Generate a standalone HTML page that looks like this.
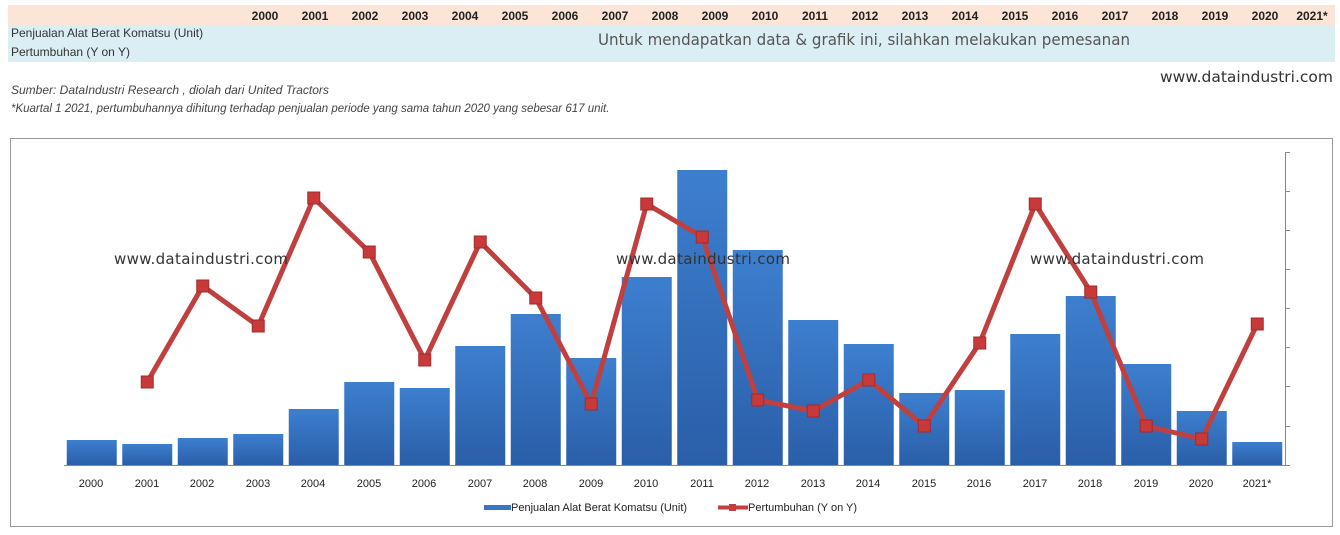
<!DOCTYPE html>
<html><head><meta charset="utf-8"><style>
body{margin:0;width:1340px;height:535px;background:#fff;overflow:hidden;font-family:"Liberation Sans",sans-serif;position:relative}
.a{position:absolute;white-space:nowrap}
</style></head><body>
<div class="a" style="left:8px;top:5px;width:1327px;height:20px;background:#fce4d6"></div>
<div class="a" style="left:8px;top:25px;width:1327px;height:37px;background:#daeef3"></div>
<div class="a" style="left:11px;top:26px;font-size:12px;color:#333">Penjualan Alat Berat Komatsu (Unit)</div>
<div class="a" style="left:11px;top:45px;font-size:12px;color:#333">Pertumbuhan (Y on Y)</div>
<div class="a" style="left:11px;top:83px;font-size:12px;font-style:italic;color:#444">Sumber: DataIndustri Research , diolah dari United Tractors</div>
<div class="a" style="left:11px;top:103px;font-size:11.5px;font-style:italic;color:#444">*Kuartal 1 2021, pertumbuhannya dihitung terhadap penjualan periode yang sama tahun 2020 yang sebesar 617 unit.</div>
<svg class="a" style="left:0;top:0" width="1340" height="535">
<text x="598" y="45" font-size="16" fill="#555" font-family="DejaVu Sans" textLength="532" lengthAdjust="spacingAndGlyphs">Untuk mendapatkan data &amp; grafik ini, silahkan melakukan pemesanan</text>
<text x="1160" y="82" font-size="15" fill="#333" font-family="DejaVu Sans" textLength="173" lengthAdjust="spacingAndGlyphs">www.dataindustri.com</text>
<g font-size="12" font-weight="bold" fill="#222" text-anchor="middle" font-family="Liberation Sans">
<text x="265" y="20">2000</text><text x="315" y="20">2001</text><text x="365" y="20">2002</text><text x="415" y="20">2003</text><text x="465" y="20">2004</text><text x="515" y="20">2005</text><text x="565" y="20">2006</text><text x="615" y="20">2007</text><text x="665" y="20">2008</text><text x="715" y="20">2009</text><text x="765" y="20">2010</text><text x="815" y="20">2011</text><text x="865" y="20">2012</text><text x="915" y="20">2013</text><text x="965" y="20">2014</text><text x="1015" y="20">2015</text><text x="1065" y="20">2016</text><text x="1115" y="20">2017</text><text x="1165" y="20">2018</text><text x="1215" y="20">2019</text><text x="1265" y="20">2020</text><text x="1312" y="20">2021*</text>
</g>
<rect x="10.5" y="138.5" width="1322" height="388" fill="none" stroke="#999"/>
<defs><linearGradient id="bg" x1="0" x2="0" y1="0" y2="1"><stop offset="0" stop-color="#3d7fcf"/><stop offset="1" stop-color="#2a5ea8"/></linearGradient></defs>
<g id="bars"></g>
<line x1="64" y1="465.5" x2="1286" y2="465.5" stroke="#888"/>
<line x1="1285.5" y1="152" x2="1285.5" y2="466" stroke="#888"/>
<g stroke="#888"><line x1="1285" x2="1290" y1="152.5" y2="152.5"/><line x1="1285" x2="1290" y1="191.5" y2="191.5"/><line x1="1285" x2="1290" y1="230.5" y2="230.5"/><line x1="1285" x2="1290" y1="269.5" y2="269.5"/><line x1="1285" x2="1290" y1="308.5" y2="308.5"/><line x1="1285" x2="1290" y1="347.5" y2="347.5"/><line x1="1285" x2="1290" y1="386.5" y2="386.5"/><line x1="1285" x2="1290" y1="426.5" y2="426.5"/><line x1="1285" x2="1290" y1="465.5" y2="465.5"/></g>
<g id="line"></g>
<g font-size="15" fill="#333" font-family="DejaVu Sans"><text x="114" y="264" textLength="174">www.dataindustri.com</text><text x="616" y="264" textLength="174">www.dataindustri.com</text><text x="1030" y="264" textLength="174">www.dataindustri.com</text></g>
<g font-size="11" fill="#222" text-anchor="middle" font-family="Liberation Sans">
<text x="91" y="487">2000</text><text x="147" y="487">2001</text><text x="202" y="487">2002</text><text x="258" y="487">2003</text><text x="313" y="487">2004</text><text x="369" y="487">2005</text><text x="424" y="487">2006</text><text x="480" y="487">2007</text><text x="535" y="487">2008</text><text x="591" y="487">2009</text><text x="646" y="487">2010</text><text x="702" y="487">2011</text><text x="757" y="487">2012</text><text x="813" y="487">2013</text><text x="868" y="487">2014</text><text x="924" y="487">2015</text><text x="979" y="487">2016</text><text x="1035" y="487">2017</text><text x="1090" y="487">2018</text><text x="1146" y="487">2019</text><text x="1201" y="487">2020</text><text x="1257" y="487">2021*</text>
</g>
<rect x="484" y="505" width="27" height="5" fill="#3a75c4"/>
<text x="511" y="511" font-size="11" fill="#222">Penjualan Alat Berat Komatsu (Unit)</text>
<line x1="718" y1="507.5" x2="748" y2="507.5" stroke="#c0403f" stroke-width="4"/>
<rect x="729" y="504" width="7" height="7" fill="#c0403f"/>
<text x="748" y="511" font-size="11" fill="#222">Pertumbuhan (Y on Y)</text>
</svg>
<script>
var bt=[440,444,438,434,409,382,388,346,314,358,277,170,250,320,344,393,390,334,296,364,411,442];
var lp=[null,382,286,326,198,252,360,242,298,404,204,237,400,411,380,426,343,204,292,426,439,324];
var ns="http://www.w3.org/2000/svg",b=document.getElementById('bars'),l=document.getElementById('line');
function cx(i){return 64+55.5*(i+0.5);}
bt.forEach(function(t,i){var r=document.createElementNS(ns,'rect');r.setAttribute('x',cx(i)-25);r.setAttribute('y',t);r.setAttribute('width',50);r.setAttribute('height',465-t);r.setAttribute('fill','url(#bg)');b.appendChild(r);});
var pts=[];lp.forEach(function(y,i){if(y!=null)pts.push(cx(i)+','+y);});
var p=document.createElementNS(ns,'polyline');p.setAttribute('points',pts.join(' '));p.setAttribute('fill','none');p.setAttribute('stroke','#c0403f');p.setAttribute('stroke-width','5');p.setAttribute('stroke-linejoin','round');l.appendChild(p);
lp.forEach(function(y,i){if(y==null)return;var r=document.createElementNS(ns,'rect');r.setAttribute('x',cx(i)-6);r.setAttribute('y',y-6);r.setAttribute('width',12);r.setAttribute('height',12);r.setAttribute('fill','#c8393a');r.setAttribute('stroke','#a52a2a');l.appendChild(r);});
</script>
</body></html>
